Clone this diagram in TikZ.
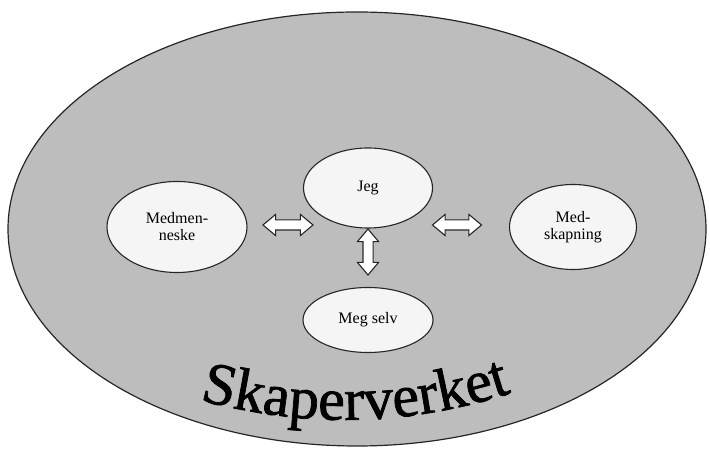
\documentclass[tikz,border=0pt]{standalone}
\usepackage{fontspec}
\setmainfont{Liberation Serif}
\newfontfamily\verkfont{Liberation Serif}[FakeBold=1.2]
\usetikzlibrary{shapes.geometric,shapes.arrows,decorations.text}
\begin{document}
\begin{tikzpicture}[x=1pt, y=1pt, thick,
	main/.style = {draw=black!85, line width=1.1pt, ellipse, fill=white!96!black, inner sep=0pt, align=center, font=\fontsize{16}{17}\selectfont},
	fat/.style = {draw=black!85, line width=1.1pt, double arrow, fill=white, inner xsep=0pt, inner ysep=4.5pt, double arrow head extend=5.5pt, double arrow tip angle=80}]
		\useasboundingbox (0,0) rectangle (710,452);
		\node[draw=black!85, line width=1.2pt, ellipse, fill=black!26, minimum width=698pt, minimum height=434pt] (verk) at (357,223) {};
		\node[main, minimum width=129pt, minimum height=80pt] (jeg) at (368,264) {Jeg};
		\node[main, minimum width=140pt, minimum height=91pt] (medmen) at (177,225) {Medmen-\\neske};
		\node[main, minimum width=127pt, minimum height=85pt] (medskap) at (573,225) {Med-\\skapning};
		\node[main, minimum width=130pt, minimum height=65pt] (megselv) at (368,132) {Meg selv};
		\node[fat, minimum height=50pt] (a1) at (288,227) {};
		\node[fat, minimum height=49pt] (a2) at (457,227) {};
		\node[fat, minimum height=46pt, rotate=90] (a3) at (368,200) {};
		\path[decorate, decoration={text along path, text align=center, text={|\verkfont\fontsize{60}{60}\selectfont|Skaperverket}}]
			(150,67) .. controls (290,19) and (420,19) .. (560,77);
		\end{tikzpicture}
\end{document}
